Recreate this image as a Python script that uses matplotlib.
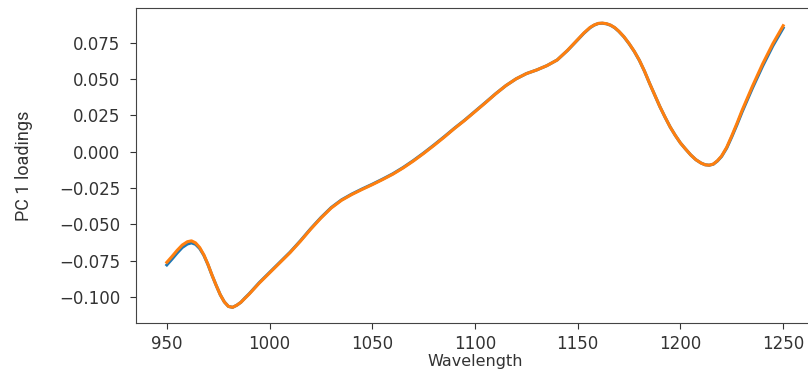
import matplotlib.pyplot as plt

# wavelength grid (nm), denser around the sharp bends
wavelength = [950, 952.5, 955, 957.5, 960, 962, 964, 966, 968, 970, 972, 974,
              976, 978, 980, 982, 984, 986, 988, 990, 995, 1000,
              1005, 1010, 1015, 1020, 1025, 1030, 1035, 1040, 1045, 1050,
              1055, 1060, 1065, 1070, 1075, 1080, 1085, 1090, 1095, 1100,
              1105, 1110, 1115, 1120, 1125, 1130, 1135, 1140, 1145, 1150,
              1153, 1156, 1158, 1160, 1162, 1164, 1166, 1168, 1170,
              1172.5, 1175, 1177.5, 1180, 1182.5, 1185, 1187.5, 1190, 1192.5,
              1195, 1197.5, 1200, 1202.5, 1205, 1207.5, 1210,
              1212, 1214, 1216, 1218, 1220, 1222.5, 1225, 1227.5, 1230, 1235,
              1240, 1245, 1250]

# PC 1 loadings, first run
pc1_a = [-0.0780, -0.0740, -0.0698, -0.0660, -0.0636, -0.0628, -0.0638, -0.0667,
         -0.0713, -0.0777, -0.0851, -0.0920, -0.0985, -0.1035, -0.1066, -0.1072,
         -0.1058, -0.1038, -0.1008, -0.0980, -0.0902, -0.0832,
         -0.0762, -0.0692, -0.0614, -0.0531, -0.0454, -0.0385, -0.0332, -0.0292,
         -0.0257, -0.0224, -0.0189, -0.0152, -0.0109, -0.0061, -0.0009, 0.0046,
         0.0103, 0.0162, 0.0218, 0.0278, 0.0338, 0.0399, 0.0455, 0.0502, 0.0538,
         0.0563, 0.0593, 0.0632, 0.0697, 0.0771,
         0.0816, 0.0854, 0.0872, 0.0883, 0.0885, 0.0881, 0.0871, 0.0854, 0.0829,
         0.0791, 0.0744, 0.0691, 0.0629, 0.0554, 0.0470, 0.0390, 0.0310, 0.0238,
         0.0170, 0.0112, 0.0060, 0.0018, -0.0022, -0.0055, -0.0078,
         -0.0090, -0.0093, -0.0086, -0.0064, -0.0033, 0.0025, 0.0103, 0.0186,
         0.0274, 0.0437, 0.0590, 0.0730, 0.0852]

# PC 1 loadings, second run
pc1_b = [-0.0762, -0.0722, -0.0680, -0.0643, -0.0620, -0.0614, -0.0628, -0.0660,
         -0.0710, -0.0775, -0.0850, -0.0920, -0.0985, -0.1035, -0.1066, -0.1072,
         -0.1058, -0.1038, -0.1010, -0.0982, -0.0905, -0.0835,
         -0.0765, -0.0695, -0.0617, -0.0534, -0.0457, -0.0388, -0.0335, -0.0295,
         -0.0260, -0.0227, -0.0192, -0.0155, -0.0112, -0.0064, -0.0012, 0.0043,
         0.0100, 0.0160, 0.0216, 0.0276, 0.0336, 0.0398, 0.0455, 0.0502, 0.0538,
         0.0563, 0.0593, 0.0632, 0.0698, 0.0773,
         0.0818, 0.0856, 0.0873, 0.0884, 0.0886, 0.0882, 0.0872, 0.0855, 0.0830,
         0.0792, 0.0745, 0.0692, 0.0630, 0.0555, 0.0470, 0.0390, 0.0310, 0.0238,
         0.0170, 0.0112, 0.0060, 0.0018, -0.0022, -0.0055, -0.0078,
         -0.0090, -0.0093, -0.0085, -0.0062, -0.0030, 0.0030, 0.0110, 0.0195,
         0.0285, 0.0450, 0.0605, 0.0745, 0.0868]

xticks = [950, 1000, 1050, 1100, 1150, 1200, 1250]
yticks = [-0.100, -0.075, -0.050, -0.025, 0.0, 0.025, 0.050, 0.075]

fig = plt.figure(figsize=(8.08, 3.71), dpi=100)
ax = fig.add_axes([136 / 808, 48 / 371, 678 / 808, 315 / 371])

ax.plot(wavelength, pc1_a, color='tab:blue', lw=2.2)
ax.plot(wavelength, pc1_b, color='tab:orange', lw=2.2)

ax.set_xlim(935, 1265)
ax.set_ylim(-0.118, 0.099)
ax.set_xticks(xticks)
ax.set_yticks(yticks)
ax.tick_params(labelsize=12, length=4.5, colors='#333333', labelcolor='#333333')
ax.tick_params(axis='y', pad=7)
ax.tick_params(axis='x', pad=4)
for s in ax.spines.values():
    s.set_color('#444444')

ax.set_xlabel('Wavelength', fontsize=11.5, color='#333333')
ax.xaxis.set_label_coords(0.5, -0.097)
ax.set_ylabel('PC 1 loadings', fontsize=13, color='#333333',
              family=['Roboto', 'DejaVu Sans'])
ax.yaxis.set_label_coords(-0.152, 0.5)

fig.savefig('out.png', dpi=100)
